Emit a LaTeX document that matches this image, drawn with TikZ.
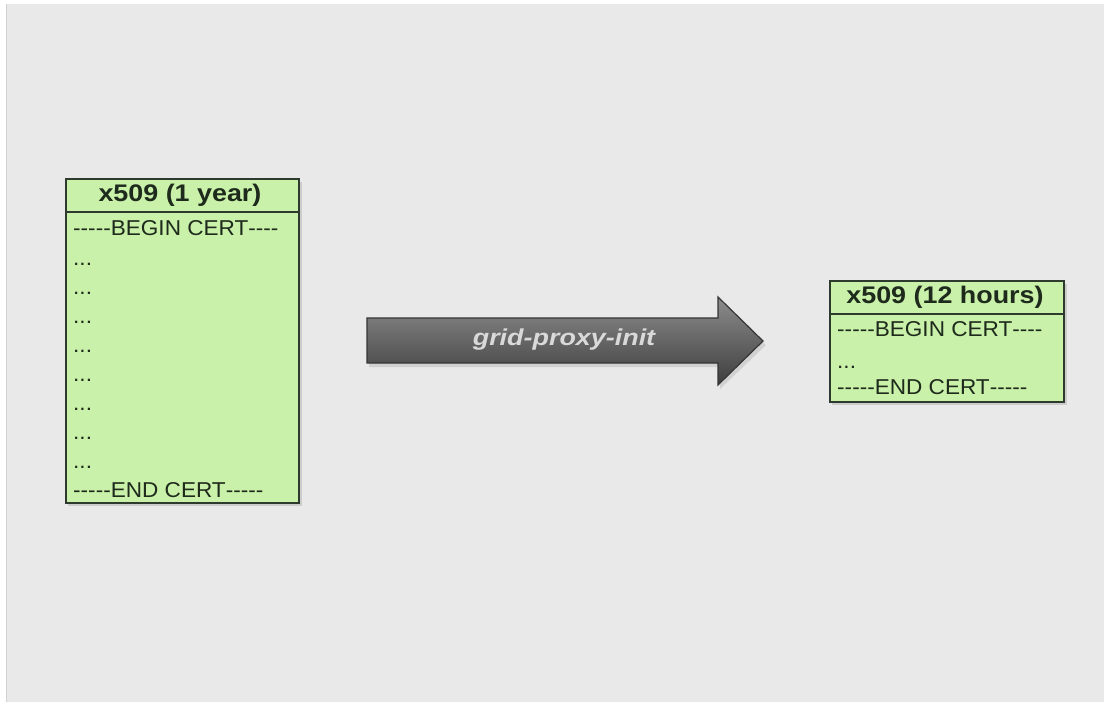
\documentclass[tikz,border=0pt]{standalone}
\usepackage{fontspec}
\setmainfont{Liberation Sans}
\usetikzlibrary{shadings}
\definecolor{pagebg}{HTML}{E9E9E9}
\definecolor{certfill}{HTML}{C9F1A9}
\definecolor{certline}{HTML}{2E3A2E}
\definecolor{certtext}{HTML}{1E2A1C}
\definecolor{arrowtop}{HTML}{8C8C8C}
\definecolor{arrowbot}{HTML}{3E3E3E}
\definecolor{arrowedge}{HTML}{353535}
% a plain hyphen that never joins into a dash ligature
\newcommand\hy{\hbox{-}}
\tikzset{
  certbox/.style={draw=certline, line width=1.6pt, fill=certfill},
  certshadow/.style={fill=black, opacity=0.12},
  certtitle/.style={font=\bfseries\fontsize{24}{28}\selectfont, text=certtext, inner sep=0pt, xscale=1.12, transform shape},
  certrow/.style={font=\fontsize{21.5}{25}\selectfont, text=certtext, inner sep=0pt, anchor=west, xscale=1.05, transform shape},
  certdots/.style={certrow, anchor=base west},
  bigarrow/.style={draw=arrowedge, line width=1.2pt, top color=arrowtop, bottom color=arrowbot},
  arrowlabel/.style={font=\bfseries\itshape\fontsize{23}{27}\selectfont, text=white!85!black, inner sep=0pt, xscale=1.17, transform shape}
}
\begin{document}
\begin{tikzpicture}[x=1pt, y=-1pt]
  % canvas
  \fill[white] (0,0) rectangle (1104,702);
  \useasboundingbox (0,0) rectangle (1104,702);
  \fill[pagebg] (6,4) rectangle (1104,702);
  \draw[white!82!black, line width=0.6pt] (6.3,4) -- (6.3,702);

  % long-lived certificate
  \fill[certshadow] (68,182) rectangle (302,506);
  \draw[certbox] (66,179) rectangle (299,503);
  \draw[certline, line width=1.6pt] (66,212) -- (299,212);
  \node[certtitle] (longtitle) at (180,195.5) {x509 (1 year)};
  \node[certrow] (lbegin) at (73,228) {\hy\hy\hy\hy\hy BEGIN CERT\hy\hy\hy\hy};
  \node[certdots] (ld1) at (73,265.5) {...};
  \node[certdots] (ld2) at (73,294.5) {...};
  \node[certdots] (ld3) at (73,323.5) {...};
  \node[certdots] (ld4) at (73,352.5) {...};
  \node[certdots] (ld5) at (73,381.5) {...};
  \node[certdots] (ld6) at (73,410.5) {...};
  \node[certdots] (ld7) at (73,439.5) {...};
  \node[certdots] (ld8) at (73,468.5) {...};
  \node[certrow] (lend) at (73,490.5) {\hy\hy\hy\hy\hy END CERT\hy\hy\hy\hy\hy};

  % proxy certificate
  \fill[certshadow] (832,284) rectangle (1067,405);
  \draw[certbox] (830,281) rectangle (1064,402);
  \draw[certline, line width=1.6pt] (830,314) -- (1064,314);
  \node[certtitle] (shorttitle) at (945,297.5) {x509 (12 hours)};
  \node[certrow] (sbegin) at (837,329.5) {\hy\hy\hy\hy\hy BEGIN CERT\hy\hy\hy\hy};
  \node[certdots] (sd1) at (837,368.5) {...};
  \node[certrow] (send) at (837,387) {\hy\hy\hy\hy\hy END CERT\hy\hy\hy\hy\hy};

  % command arrow
  \fill[black, opacity=0.10] (369,322) -- (720,322) -- (720,301) -- (766,345) -- (720,389) -- (720,367) -- (369,367) -- cycle;
  \draw[bigarrow] (367,318) -- (718,318) -- (718,297) -- (763,341) -- (718,385) -- (718,363) -- (367,363) -- cycle;
  \node[arrowlabel] (cmd) at (564,340) {grid-proxy-init};
\end{tikzpicture}
\end{document}
